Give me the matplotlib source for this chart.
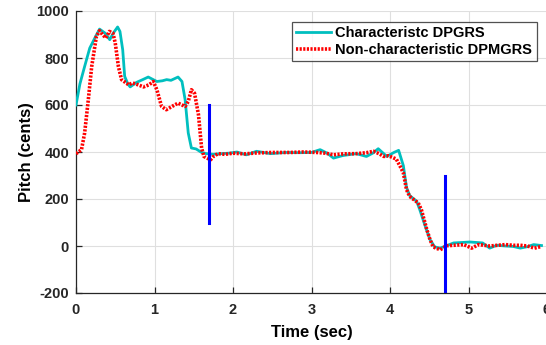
import matplotlib
matplotlib.use("Agg")
import matplotlib.pyplot as plt

plt.rcParams['font.family'] = ['Liberation Sans', 'DejaVu Sans']
plt.rcParams['font.weight'] = 'bold'
plt.rcParams['axes.unicode_minus'] = False

# Characteristic DPGRS (cyan)
t_char = [0.0, 0.05, 0.11, 0.175, 0.24, 0.30, 0.37, 0.43, 0.475, 0.53, 0.56, 0.595, 0.62, 0.66,
          0.69, 0.77, 0.85, 0.92, 1.03, 1.10, 1.155, 1.21, 1.30, 1.35, 1.39, 1.43, 1.47, 1.53,
          1.60, 1.665, 1.75, 1.85, 1.95, 2.05, 2.17, 2.30, 2.48, 2.67, 2.85, 3.0, 3.11, 3.20,
          3.28, 3.40, 3.57, 3.70, 3.78, 3.85, 3.96, 4.05, 4.11, 4.17, 4.21, 4.25, 4.34, 4.38,
          4.45, 4.51, 4.57, 4.64, 4.72, 4.81, 4.92, 5.02, 5.10, 5.18, 5.27, 5.36, 5.47, 5.57,
          5.66, 5.75, 5.83, 5.93]
p_char = [600, 690, 764, 842, 885, 923, 906, 878, 906, 932, 913, 835, 722, 690,
          677, 696, 708, 719, 700, 703, 708, 705, 719, 700, 623, 481, 417, 413,
          398, 393, 390, 393, 395, 400, 388, 403, 393, 398, 397, 398, 410, 395,
          374, 385, 393, 381, 395, 414, 381, 398, 407, 342, 250, 215, 190, 154,
          83, 27, -4, -9, 1, 13, 15, 17, 15, 13, -9, 3, 0, -2,
          -9, -3, 6, 2]

# Non-characteristic DPMGRS (red dotted)
t_non = [0.0, 0.07, 0.11, 0.157, 0.20, 0.26, 0.30, 0.34, 0.38, 0.425, 0.47, 0.50, 0.54, 0.58,
         0.67, 0.72, 0.79, 0.86, 0.93, 0.985, 1.03, 1.09, 1.15, 1.24, 1.30, 1.39, 1.43, 1.47,
         1.51, 1.56, 1.60, 1.63, 1.67, 1.715, 1.75, 1.81, 1.90, 2.0, 2.15, 2.3, 2.5, 2.73,
         2.9, 3.07, 3.18, 3.28, 3.40, 3.57, 3.70, 3.79, 3.86, 3.92, 3.98, 4.08, 4.14, 4.17,
         4.21, 4.25, 4.36, 4.40, 4.47, 4.51, 4.55, 4.64, 4.72, 4.81, 4.94, 5.04, 5.13, 5.27,
         5.37, 5.47, 5.57, 5.66, 5.75, 5.84, 5.93]
p_non = [393, 410, 481, 623, 764, 892, 916, 899, 885, 913, 906, 864, 764, 708,
         686, 694, 686, 677, 686, 700, 665, 594, 580, 597, 608, 594, 615, 665,
         650, 559, 417, 381, 374, 367, 381, 393, 390, 395, 392, 396, 398, 398,
         400, 398, 395, 388, 392, 393, 397, 403, 393, 381, 384, 370, 332, 311,
         240, 211, 183, 154, 69, 27, -4, -16, 1, 3, 6, -9, 6, 0,
         3, 6, 3, 3, 0, -9, -2]

# Blue markers (time, ymin, ymax)
mark_t = [1.7, 4.7]
mark_lo = [100, -200]
mark_hi = [600, 300]

x_ticks = [0, 1, 2, 3, 4, 5, 6]
y_ticks = [-200, 0, 200, 400, 600, 800, 1000]

fig = plt.figure(figsize=(5.46, 3.45), dpi=100)
ax = fig.add_axes([76/546, 52/345, 471/546, 282/345])

ax.plot(t_char, p_char, color='#00BFBF', lw=2.0, label='Characteristc DPGRS', zorder=3)
ax.plot(t_non, p_non, color='#FF0000', lw=2.6, ls=(0, (0.6, 0.4)), label='Non-characteristic DPMGRS', zorder=4)
for t, lo, hi in zip(mark_t, mark_lo, mark_hi):
    ax.plot([t, t], [lo, hi], color='#0000FF', lw=2.2, zorder=5)

ax.set_xlim(0, 6)
ax.set_ylim(-200, 1000)
ax.set_xticks(x_ticks)
ax.set_yticks(y_ticks)
ax.grid(True, color='#DFDFDF', lw=0.8)
ax.set_axisbelow(True)
for s in ['top', 'right']:
    ax.spines[s].set_visible(False)
for s in ['left', 'bottom']:
    ax.spines[s].set_color('#262626')
    ax.spines[s].set_linewidth(0.9)
ax.tick_params(direction='in', length=4, width=0.9, colors='#262626', labelsize=10.5, pad=5)
ax.tick_params(axis='x', pad=7)
for lab in ax.get_xticklabels() + ax.get_yticklabels():
    lab.set_fontweight('bold')

ax.set_xlabel('Time (sec)', fontsize=12, fontweight='bold', labelpad=6)
ax.set_ylabel('Pitch (cents)', fontsize=12, fontweight='bold', labelpad=2)

leg = ax.legend(loc='upper right', bbox_to_anchor=(0.978, 0.962), fontsize=10.5, frameon=True,
                fancybox=False, handlelength=2.4, handletextpad=0.3, borderpad=0.3,
                labelspacing=0.2, borderaxespad=0)
leg.get_frame().set_edgecolor('#262626')
leg.get_frame().set_linewidth(0.9)
for txt in leg.get_texts():
    txt.set_fontweight('bold')

fig.savefig('out.png', dpi=100)
